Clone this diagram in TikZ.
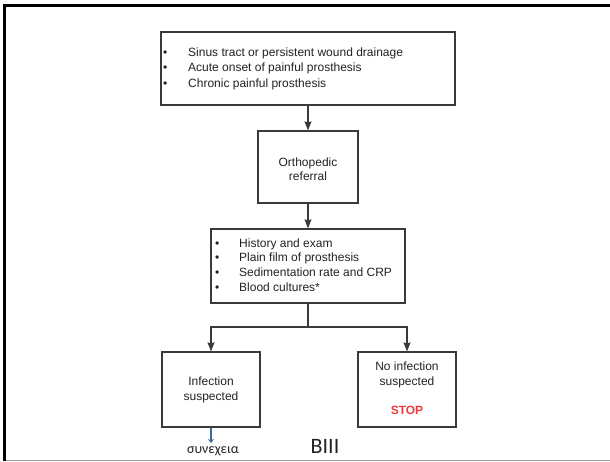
\documentclass[tikz,border=0pt]{standalone}
\usepackage{fontspec}
\setmainfont{Liberation Sans}
\newfontfamily\calfont{Carlito}
\usetikzlibrary{arrows.meta}
\definecolor{boxline}{HTML}{3A3A3A}
\definecolor{txt}{HTML}{222222}
\definecolor{stopred}{HTML}{EE3B3B}
\definecolor{contblue}{HTML}{41669A}
\tikzset{
  box/.style={draw=boxline, line width=1.2pt, rectangle, inner sep=0pt},
  lbl/.style={inner sep=0pt, text=txt, font=\fontsize{12}{15}\selectfont},
  conn/.style={draw=boxline, line width=1.1pt},
  arr/.style={conn, -{Stealth[length=9pt,width=7pt,inset=1pt]}},
}
\newcommand{\bul}[2]{\makebox[#1][l]{\textbullet}#2}
\begin{document}
\begin{tikzpicture}[x=1pt,y=-1pt]
\useasboundingbox (0,0) rectangle (610,461);
% frame
\draw[line width=2.6pt, black] (4.7,461) -- (4.7,5.3) -- (610,5.3);
\draw[line width=1pt, black!40] (6,460) -- (610,460);
% boxes
\node[box, minimum width=294pt, minimum height=73pt] (b1) at (308,68.5) {};
\node[box, minimum width=100pt, minimum height=72pt] (b2) at (308,167) {};
\node[box, minimum width=194pt, minimum height=74pt] (b3) at (308,266) {};
\node[box, minimum width=98pt, minimum height=75pt] (b4) at (211,389.5) {};
\node[box, minimum width=98pt, minimum height=75pt] (b5) at (407,389.5) {};
% texts
\node[lbl, anchor=west, align=left, font=\fontsize{12}{15.5}\selectfont] (t1) at (163,68.5)
  {\bul{25pt}{Sinus tract or persistent wound drainage}\\
   \bul{25pt}{Acute onset of painful prosthesis}\\
   \bul{25pt}{Chronic painful prosthesis}};
\node[lbl, align=center, font=\fontsize{12}{14}\selectfont] (t2) at (308,169) {Orthopedic\\referral};
\node[lbl, anchor=west, align=left, font=\fontsize{12}{14.7}\selectfont] (t3) at (215,265)
  {\bul{24pt}{History and exam}\\
   \bul{24pt}{Plain film of prosthesis}\\
   \bul{24pt}{Sedimentation rate and CRP}\\
   \bul{24pt}{Blood cultures*}};
\node[lbl, align=center] (t4) at (211,389.5) {Infection\\suspected};
\node[lbl, align=center] (t5) at (407,374.5) {No infection\\suspected};
\node[lbl, text=stopred, font=\fontsize{12}{14}\selectfont\bfseries] (stop) at (407,410) {STOP};
% connectors
\coordinate (br) at (308,327);
\draw[arr] (b1.south) -- (b2.north);
\draw[arr] (b2.south) -- (b3.north);
\draw[conn] (b3.south) -- (br);
\draw[arr] (br) -| (b4.north);
\draw[arr] (br) -| (b5.north);
% continuation
\coordinate (ce) at (211,443);
\draw[contblue, line width=2.6pt, -{Stealth[length=4pt,width=6pt]}] (b4.south) -- (ce);
\node[inner sep=0pt, font=\calfont\fontsize{14}{16}\selectfont, text=txt] (cont) at (213,451) {συνεχεια};
\node[inner sep=0pt, font=\calfont\fontsize{22}{24}\selectfont, text=txt] (bl) at (325,446) {BIII};
\end{tikzpicture}
\end{document}
